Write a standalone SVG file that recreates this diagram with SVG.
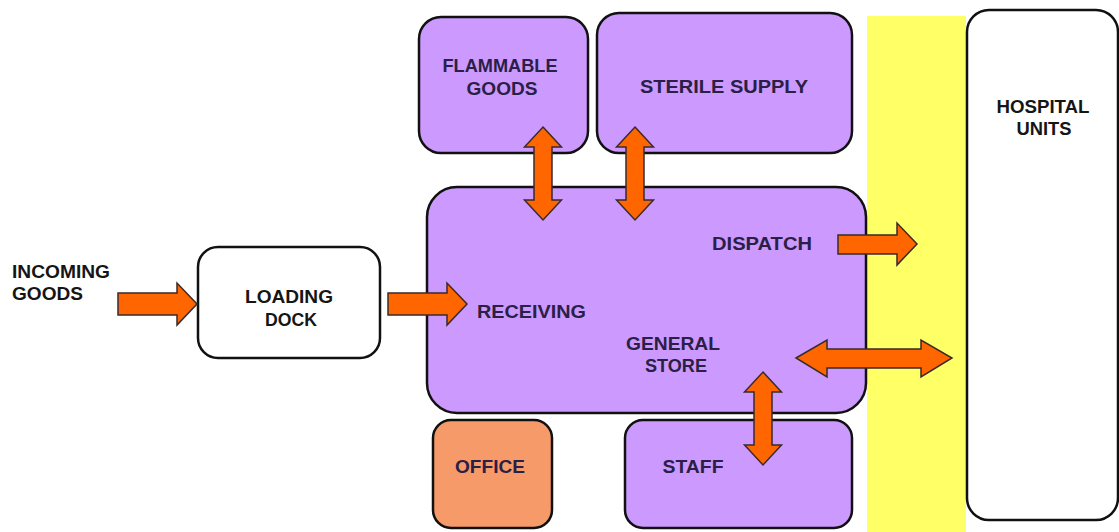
<svg xmlns="http://www.w3.org/2000/svg" width="1119" height="532" viewBox="0 0 1119 532">
  <style>
    .box { stroke: #111; stroke-width: 2.5; }
    .purple { fill: #CC99FF; }
    .white { fill: #FFFFFF; }
    .office { fill: #F79A6A; }
    .arrow { fill: #FF6600; stroke: #3a2a2a; stroke-width: 1.5; stroke-linejoin: miter; }
    text { font-family: "Liberation Sans", Arial, sans-serif; font-size: 18px; font-weight: bold; text-anchor: middle; }
    .dark { fill: #2A2045; }
    .black { fill: #151515; }
  </style>
  <rect x="0" y="0" width="1119" height="532" fill="#FFFFFF"/>

  <g id="corridor">
    <rect x="867" y="16" width="99" height="516" fill="#FFFF66"/>
  </g>

  <g id="hospital-units">
    <rect class="box white" x="967" y="10" width="151" height="510" rx="22" ry="22"/>
    <text class="black" x="1043" y="113" textLength="93" lengthAdjust="spacingAndGlyphs">HOSPITAL</text>
    <text class="black" x="1044" y="135" textLength="55" lengthAdjust="spacingAndGlyphs">UNITS</text>
  </g>

  <g id="incoming-goods">
    <text class="black" x="12" y="278" style="text-anchor:start" textLength="98" lengthAdjust="spacingAndGlyphs">INCOMING</text>
    <text class="black" x="12" y="300" style="text-anchor:start" textLength="71" lengthAdjust="spacingAndGlyphs">GOODS</text>
  </g>

  <g id="loading-dock">
    <rect class="box white" x="198" y="247" width="182" height="111" rx="20" ry="20"/>
    <text class="black" x="289" y="303" textLength="88" lengthAdjust="spacingAndGlyphs">LOADING</text>
    <text class="black" x="291" y="326" textLength="52" lengthAdjust="spacingAndGlyphs">DOCK</text>
  </g>

  <g id="flammable-goods">
    <rect class="box purple" x="419" y="17" width="169" height="136" rx="22" ry="22"/>
    <text class="dark" x="500" y="72" textLength="115" lengthAdjust="spacingAndGlyphs">FLAMMABLE</text>
    <text class="dark" x="502" y="95" textLength="71" lengthAdjust="spacingAndGlyphs">GOODS</text>
  </g>

  <g id="sterile-supply">
    <rect class="box purple" x="597" y="13" width="255" height="140" rx="22" ry="22"/>
    <text class="dark" x="724" y="93" textLength="168" lengthAdjust="spacingAndGlyphs">STERILE SUPPLY</text>
  </g>

  <g id="general-store">
    <rect class="box purple" x="427" y="187" width="439" height="226" rx="30" ry="30"/>
    <text class="dark" x="762" y="250" textLength="100" lengthAdjust="spacingAndGlyphs">DISPATCH</text>
    <text class="dark" x="531.5" y="318" textLength="109" lengthAdjust="spacingAndGlyphs">RECEIVING</text>
    <text class="dark" x="673" y="350" textLength="94" lengthAdjust="spacingAndGlyphs">GENERAL</text>
    <text class="dark" x="676" y="372" textLength="62" lengthAdjust="spacingAndGlyphs">STORE</text>
  </g>

  <g id="office">
    <rect class="box office" x="433" y="420" width="119" height="108" rx="18" ry="18"/>
    <text class="dark" x="490" y="473" textLength="70" lengthAdjust="spacingAndGlyphs">OFFICE</text>
  </g>

  <g id="staff">
    <rect class="box purple" x="625" y="420" width="227" height="108" rx="18" ry="18"/>
    <text class="dark" x="693" y="473" textLength="61" lengthAdjust="spacingAndGlyphs">STAFF</text>
  </g>

  <g id="connectors">
    <polygon class="arrow" points="118,293 177,293 177,283 197,304 177,325 177,315 118,315"/>
    <polygon class="arrow" points="388,293 447,293 447,283 467,304 447,325 447,315 388,315"/>
    <polygon class="arrow" points="838,235 897,235 897,223 917,244 897,265 897,254 838,254"/>
    <polygon class="arrow" points="796,358 827,340 827,349 921,349 921,340 952,358 921,377 921,368 827,368 827,377"/>
    <polygon class="arrow" points="543,127 561.5,147 552,147 552,200 561.5,200 543,220 524.5,200 534,200 534,147 524.5,147"/>
    <polygon class="arrow" points="635,127 653.5,147 644,147 644,200 653.5,200 635,220 616.5,200 626,200 626,147 616.5,147"/>
    <polygon class="arrow" points="763,372 781.5,392 772,392 772,445 781.5,445 763,465 744.5,445 754,445 754,392 744.5,392"/>
  </g>
</svg>
